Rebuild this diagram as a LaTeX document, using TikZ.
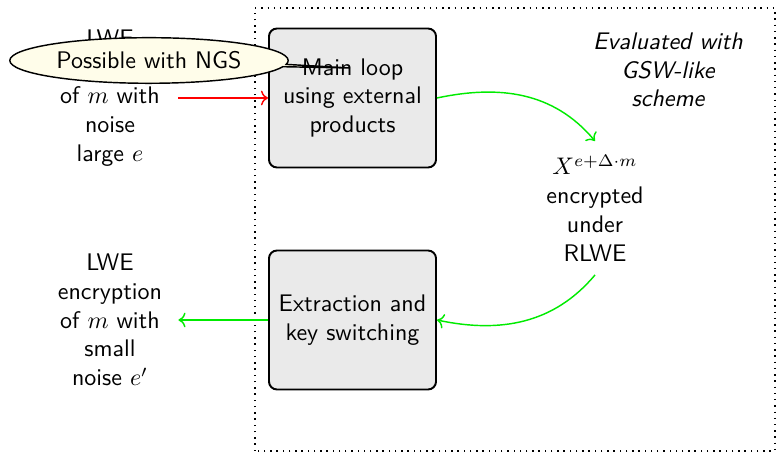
\documentclass[tikz,border=0pt]{standalone}
\usetikzlibrary{shapes.callouts,arrows.meta}
\definecolor{boxgray}{RGB}{234,234,234}
\definecolor{notecream}{RGB}{255,253,234}
\definecolor{brightgreen}{RGB}{0,235,0}
\begin{document}
\begin{tikzpicture}[x=0.41667pt,y=0.41667pt,font=\sffamily,
  stage/.style={draw,thick,rounded corners=3.3pt,fill=boxgray,
    minimum width=69.6pt,minimum height=57.9pt,text width=62pt,align=center},
  plain/.style={text width=50pt,align=center,inner sep=3.33pt},
  flow/.style={semithick,->},
]
\useasboundingbox (0,0) rectangle (776,452);

% evaluation region
\draw[dotted,semithick] (255,1) rectangle (775,444);

% processing stages
\node[stage] (loop) at (352.5,354) {Main loop\\using external\\products};
\node[stage] (extract) at (352.5,132) {Extraction and\\key switching};

% inputs / outputs
\node[plain] (input) at (110,354) {LWE\\encryption\\of $m$ with\\noise\\large $e$};
\node[plain] (output) at (110,132) {LWE\\encryption\\of $m$ with\\small\\noise $e'$};

% intermediate value
\node[align=center,inner sep=5.5pt] (acc) at (595,244)
  {$X^{e+\Delta\cdot m}$\\encrypted\\under\\RLWE};

% annotation
\node[align=center,font=\sffamily\itshape] (scheme) at (668,382)
  {Evaluated with\\GSW-like\\scheme};

% connectors
\draw[flow,red] (input.east) -- (loop.west);
\draw[flow,brightgreen] (loop.east) to[out=12,in=130] (acc.north);
\draw[flow,brightgreen] (acc.south) to[out=-130,in=-12] (extract.east);
\draw[flow,brightgreen] (extract.west) -- (output.east);

% callout
\coordinate (tip) at (350,384);
\node[ellipse callout,draw,semithick,fill=notecream,
  minimum width=116pt,minimum height=19pt,inner sep=1pt,
  callout absolute pointer={(tip)},callout pointer arc=6]
  (note) at (149,391.5) {Possible with NGS};
\end{tikzpicture}
\end{document}
